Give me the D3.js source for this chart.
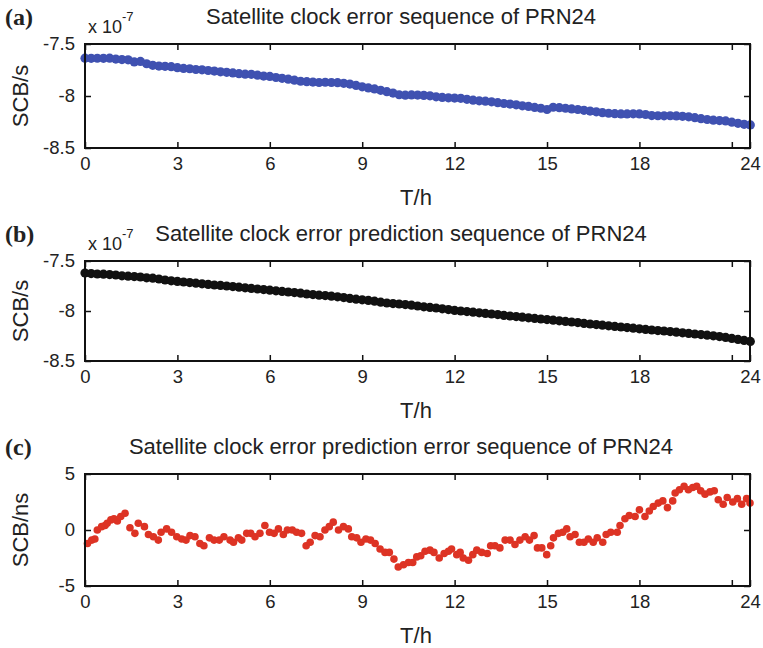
<!DOCTYPE html>
<html>
<head>
<meta charset="utf-8">
<script src="https://cdn.jsdelivr.net/npm/d3@7"></script>
<style>
  body { margin: 0; background: #fff; }
  text { font-family: "Liberation Sans", Arial, sans-serif; fill: #222; }
  .lbl { font-family: "Liberation Serif", "Times New Roman", serif; font-weight: bold; }
</style>
</head>
<body>
<svg id="chart" width="763" height="648"></svg>
<script>
// sample interval of series a and b (h)
var stepAB = 0.2;

// (a) satellite clock error, x 10^-7 s
var clockA = [
  -7.636,-7.638,-7.637,-7.638,-7.636,-7.645,-7.650,-7.652,-7.672,-7.668,
  -7.690,-7.705,-7.712,-7.715,-7.718,-7.728,-7.735,-7.738,-7.745,-7.748,
  -7.755,-7.760,-7.768,-7.772,-7.778,-7.785,-7.790,-7.792,-7.800,-7.808,
  -7.812,-7.822,-7.830,-7.838,-7.848,-7.858,-7.862,-7.866,-7.870,-7.868,
  -7.870,-7.872,-7.878,-7.885,-7.898,-7.912,-7.922,-7.932,-7.945,-7.958,
  -7.972,-7.988,-7.992,-7.990,-7.991,-7.994,-7.998,-8.008,-8.014,-8.018,
  -8.020,-8.022,-8.032,-8.040,-8.046,-8.050,-8.056,-8.064,-8.072,-8.078,
  -8.085,-8.094,-8.100,-8.110,-8.118,-8.130,-8.108,-8.112,-8.118,-8.124,
  -8.130,-8.138,-8.145,-8.152,-8.160,-8.166,-8.170,-8.172,-8.172,-8.171,
  -8.172,-8.178,-8.188,-8.190,-8.191,-8.190,-8.192,-8.195,-8.200,-8.208,
  -8.218,-8.226,-8.232,-8.236,-8.240,-8.252,-8.263,-8.272,-8.278
];

// (b) predicted clock error, x 10^-7 s
var clockB = [
  -7.620,-7.626,-7.630,-7.632,-7.636,-7.640,-7.648,-7.652,-7.656,-7.660,
  -7.668,-7.672,-7.680,-7.690,-7.698,-7.704,-7.710,-7.716,-7.722,-7.728,
  -7.734,-7.740,-7.744,-7.750,-7.756,-7.762,-7.768,-7.774,-7.780,-7.786,
  -7.792,-7.798,-7.804,-7.810,-7.816,-7.822,-7.830,-7.836,-7.842,-7.846,
  -7.852,-7.858,-7.866,-7.874,-7.882,-7.888,-7.894,-7.902,-7.912,-7.920,
  -7.926,-7.930,-7.936,-7.942,-7.950,-7.958,-7.964,-7.970,-7.978,-7.986,
  -7.994,-8.000,-8.006,-8.012,-8.018,-8.024,-8.030,-8.036,-8.044,-8.050,
  -8.056,-8.062,-8.068,-8.074,-8.080,-8.086,-8.092,-8.098,-8.104,-8.110,
  -8.116,-8.124,-8.130,-8.136,-8.142,-8.148,-8.154,-8.160,-8.166,-8.172,
  -8.178,-8.184,-8.190,-8.196,-8.200,-8.206,-8.212,-8.218,-8.224,-8.230,
  -8.236,-8.242,-8.248,-8.256,-8.264,-8.274,-8.284,-8.294,-8.304
];

// (c) prediction error, ns
var hoursC = [
  0.08,0.22,0.32,0.40,0.54,0.65,0.72,0.84,0.94,1.05,1.16,1.30,1.46,1.62,1.73,1.93,
  2.06,2.22,2.38,2.47,2.65,2.81,2.98,3.14,3.28,3.41,3.57,3.73,3.86,4.04,4.19,4.36,
  4.51,4.71,4.82,4.98,5.09,5.25,5.38,5.52,5.68,5.84,5.99,6.14,6.28,6.44,6.57,6.73,
  6.87,7.03,7.18,7.31,7.47,7.63,7.79,7.93,8.06,8.23,8.39,8.55,8.66,8.82,8.96,9.12,
  9.27,9.42,9.58,9.74,9.88,10.03,10.17,10.34,10.50,10.64,10.77,10.90,11.04,11.20,
  11.33,11.50,11.66,11.80,11.90,12.07,12.18,12.28,12.45,12.59,12.72,12.88,13.06,
  13.17,13.31,13.47,13.64,13.80,13.96,14.12,14.29,14.43,14.58,14.69,14.83,14.99,
  15.12,15.21,15.37,15.51,15.64,15.75,15.91,16.05,16.20,16.34,16.50,16.63,16.81,
  16.92,17.07,17.28,17.37,17.53,17.67,17.86,18.00,18.18,18.32,18.45,18.61,18.76,
  18.91,19.08,19.16,19.30,19.45,19.59,19.73,19.86,19.99,20.13,20.29,20.43,20.56,
  20.72,20.85,21.03,21.18,21.32,21.48,21.59
];
var errC = [
  -1.2,-0.9,-0.8,0.0,0.3,0.4,0.6,0.9,1.0,0.8,1.2,1.5,0.2,-0.3,0.6,0.3,
  -0.4,-0.6,-0.9,-0.2,0.1,-0.2,-0.6,-0.8,-0.9,-0.5,-0.6,-1.2,-1.4,-0.7,-0.9,-0.9,
  -0.6,-0.9,-1.1,-0.7,-0.9,-0.3,-0.3,-0.6,-0.3,0.4,-0.2,-0.3,0.1,-0.4,0.0,0.0,
  -0.2,-0.3,-1.4,-1.1,-0.5,-0.6,0.0,0.3,0.7,0.0,0.3,0.1,-0.6,-0.7,-1.1,-0.8,
  -0.9,-1.2,-1.7,-2.0,-2.0,-2.6,-3.3,-3.1,-2.9,-2.9,-2.4,-2.3,-1.9,-1.8,
  -2.0,-2.5,-2.1,-1.9,-1.7,-2.2,-2.0,-2.5,-2.7,-2.2,-1.8,-2.0,-2.1,
  -1.4,-1.4,-1.6,-0.9,-0.9,-1.3,-0.9,-0.6,-0.9,-0.5,-1.6,-1.6,-2.2,
  -1.4,-0.7,-0.3,-0.2,0.1,-0.6,-0.4,-1.1,-1.1,-0.8,-1.1,-0.7,-1.1,
  -0.4,-0.2,-0.2,0.4,1.0,1.3,1.2,1.8,1.2,1.7,2.1,2.4,2.6,
  2.0,2.6,3.3,3.6,3.9,3.6,3.8,3.9,3.5,3.2,3.4,3.5,2.7,
  2.3,2.9,2.5,2.8,2.3,2.8,2.4
];

var xTickVals = [0,3,6,9,12,15,18,21,21.59];
var xTickLabels = ["0","3","6","9","12","15","18","","24"];
var xMax = 21.59;

var svg = d3.select("#chart");

var x = d3.scaleLinear().domain([0, xMax]).range([85, 750]);

function drawPanel(p) {
  var y = d3.scaleLinear().domain(p.yDomain).range([p.bottom, p.top]);
  var g = svg.append("g");

  // points
  g.append("g")
    .selectAll("circle")
    .data(p.values)
    .enter().append("circle")
    .attr("cx", function(d, i) { return x(p.hours ? p.hours[i] : i * stepAB); })
    .attr("cy", function(d) { return y(d); })
    .attr("r", p.r)
    .style("fill", p.color);

  var fmtX = function(d, i) { return xTickLabels[i]; };
  var fmtY = function(d) { return String(d); };

  // bottom / top axes, ticks pointing in
  g.append("g")
    .attr("transform", "translate(0," + p.bottom + ")")
    .call(d3.axisBottom(x).tickValues(xTickVals).tickFormat(fmtX).tickSize(-6).tickPadding(9));
  g.append("g")
    .attr("transform", "translate(0," + p.top + ")")
    .call(d3.axisTop(x).tickValues(xTickVals).tickFormat("").tickSize(-6));
  // left / right axes
  g.append("g")
    .attr("transform", "translate(85,0)")
    .call(d3.axisLeft(y).tickValues(p.yTicks).tickFormat(fmtY).tickSize(-6).tickPadding(10));
  g.append("g")
    .attr("transform", "translate(750,0)")
    .call(d3.axisRight(y).tickValues(p.yTicks).tickFormat("").tickSize(-6));

  g.selectAll(".domain").remove();
  g.selectAll(".tick line").attr("stroke", "#111").attr("stroke-width", 1.5);
  g.selectAll(".tick text")
    .style("font-size", "18.5px")
    .style("font-family", "'Liberation Sans', Arial, sans-serif")
    .attr("fill", "#222");

  g.append("rect")
    .attr("x", 85).attr("y", p.top)
    .attr("width", 665).attr("height", p.bottom - p.top)
    .attr("fill", "none").attr("stroke", "#111").attr("stroke-width", 2);

  // panel letter
  g.append("text")
    .attr("class", "lbl")
    .attr("x", 5).attr("y", p.top - 19)
    .style("font-size", "24px")
    .text(p.letter);

  // title
  g.append("text")
    .attr("x", 401).attr("y", p.top - 20)
    .attr("text-anchor", "middle")
    .style("font-size", "22px")
    .text(p.title);

  // exponent
  if (p.exp) {
    var e = g.append("text")
      .attr("x", 88).attr("y", p.top - 11)
      .style("font-size", "18px");
    e.append("tspan").text("x 10");
    e.append("tspan").attr("dy", -12).style("font-size", "13px").text("-7");
  }

  // axis labels
  g.append("text")
    .attr("x", 416).attr("y", p.bottom + 57)
    .attr("text-anchor", "middle")
    .style("font-size", "22px")
    .text("T/h");
  g.append("text")
    .attr("transform", "translate(28," + ((p.top + p.bottom) / 2) + ") rotate(-90)")
    .attr("text-anchor", "middle")
    .style("font-size", "22px")
    .text(p.ylabel);
}

drawPanel({
  letter: "(a)", title: "Satellite clock error sequence of PRN24", exp: true,
  top: 44, bottom: 148, yDomain: [-8.5, -7.5], yTicks: [-8.5, -8, -7.5],
  values: clockA, color: "#3f51b1", r: 4.6, ylabel: "SCB/s"
});
drawPanel({
  letter: "(b)", title: "Satellite clock error prediction sequence of PRN24", exp: true,
  top: 261, bottom: 361, yDomain: [-8.5, -7.5], yTicks: [-8.5, -8, -7.5],
  values: clockB, color: "#111111", r: 4.6, ylabel: "SCB/s"
});
drawPanel({
  letter: "(c)", title: "Satellite clock error prediction error sequence of PRN24", exp: false,
  top: 474, bottom: 586, yDomain: [-5, 5], yTicks: [-5, 0, 5],
  values: errC, hours: hoursC, color: "#dd3324", r: 3.8, ylabel: "SCB/ns"
});
</script>
</body>
</html>
